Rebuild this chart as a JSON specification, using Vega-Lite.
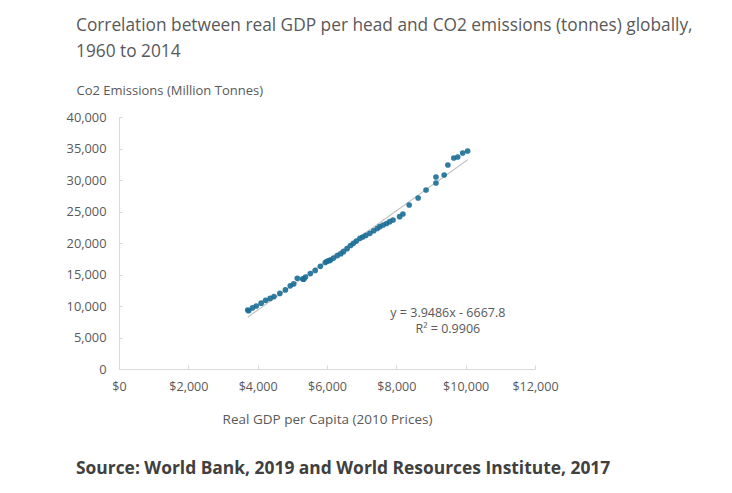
{
  "$schema": "https://vega.github.io/schema/vega-lite/v6.json",
  "background": "white",
  "autosize": {"type": "pad"},
  "padding": {"left": 66, "top": 16, "right": 5, "bottom": 5},
  "config": {"view": {"stroke": null}, "font": "Open Sans"},
  "title": {
    "text": "Source: World Bank, 2019 and World Resources Institute, 2017",
    "orient": "bottom", "anchor": "start", "frame": "group", "dx": -43,
    "font": "Open Sans", "fontSize": 17.4, "fontWeight": "bold", "color": "#404040", "offset": 34
  },
  "vconcat": [
    {
      "width": 416,
      "height": 252,
      "title": {
        "text": ["Correlation between real GDP per head and CO2 emissions (tonnes) globally,", "1960 to 2014"],
        "anchor": "start", "frame": "group", "dx": -43,
        "font": "Open Sans", "fontSize": 17.3, "lineHeight": 26, "fontWeight": "normal", "color": "#595959", "offset": 24
      },
      "data": {"values": [
        {"year": 1960, "gdp": 3714, "co2": 9365},
        {"year": 1961, "gdp": 3740, "co2": 9250},
        {"year": 1962, "gdp": 3850, "co2": 9700},
        {"year": 1963, "gdp": 3960, "co2": 10000},
        {"year": 1964, "gdp": 4100, "co2": 10450},
        {"year": 1965, "gdp": 4230, "co2": 10900},
        {"year": 1966, "gdp": 4360, "co2": 11200},
        {"year": 1967, "gdp": 4470, "co2": 11500},
        {"year": 1968, "gdp": 4640, "co2": 12000},
        {"year": 1969, "gdp": 4800, "co2": 12550},
        {"year": 1970, "gdp": 4940, "co2": 13200},
        {"year": 1971, "gdp": 5040, "co2": 13500},
        {"year": 1972, "gdp": 5143, "co2": 14400},
        {"year": 1973, "gdp": 5300, "co2": 14300},
        {"year": 1974, "gdp": 5330, "co2": 14250},
        {"year": 1975, "gdp": 5380, "co2": 14600},
        {"year": 1976, "gdp": 5520, "co2": 15150},
        {"year": 1977, "gdp": 5660, "co2": 15650},
        {"year": 1978, "gdp": 5810, "co2": 16300},
        {"year": 1979, "gdp": 5950, "co2": 16900},
        {"year": 1980, "gdp": 6000, "co2": 17100},
        {"year": 1981, "gdp": 6060, "co2": 17200},
        {"year": 1982, "gdp": 6100, "co2": 17300},
        {"year": 1983, "gdp": 6190, "co2": 17600},
        {"year": 1984, "gdp": 6300, "co2": 18000},
        {"year": 1985, "gdp": 6400, "co2": 18300},
        {"year": 1986, "gdp": 6476, "co2": 18620},
        {"year": 1987, "gdp": 6580, "co2": 19100},
        {"year": 1988, "gdp": 6680, "co2": 19600},
        {"year": 1989, "gdp": 6762, "co2": 19950},
        {"year": 1990, "gdp": 6850, "co2": 20300},
        {"year": 1991, "gdp": 6952, "co2": 20740},
        {"year": 1992, "gdp": 7030, "co2": 20950},
        {"year": 1993, "gdp": 7120, "co2": 21200},
        {"year": 1994, "gdp": 7238, "co2": 21530},
        {"year": 1995, "gdp": 7350, "co2": 21950},
        {"year": 1996, "gdp": 7450, "co2": 22300},
        {"year": 1997, "gdp": 7524, "co2": 22590},
        {"year": 1998, "gdp": 7620, "co2": 22850},
        {"year": 1999, "gdp": 7720, "co2": 23100},
        {"year": 2000, "gdp": 7810, "co2": 23390},
        {"year": 2001, "gdp": 7905, "co2": 23650},
        {"year": 2002, "gdp": 8095, "co2": 24180},
        {"year": 2003, "gdp": 8190, "co2": 24600},
        {"year": 2004, "gdp": 8371, "co2": 26030},
        {"year": 2005, "gdp": 8629, "co2": 27140},
        {"year": 2006, "gdp": 8857, "co2": 28410},
        {"year": 2007, "gdp": 9143, "co2": 29524},
        {"year": 2008, "gdp": 9380, "co2": 30794},
        {"year": 2009, "gdp": 9143, "co2": 30476},
        {"year": 2010, "gdp": 9486, "co2": 32381},
        {"year": 2011, "gdp": 9657, "co2": 33492},
        {"year": 2012, "gdp": 9771, "co2": 33651},
        {"year": 2013, "gdp": 9914, "co2": 34286},
        {"year": 2014, "gdp": 10057, "co2": 34603}
      ]},
      "encoding": {
        "x": {
          "field": "gdp", "type": "quantitative",
          "scale": {"domain": [0, 12000], "nice": false},
          "axis": {
            "title": "Real GDP per Capita (2010 Prices)",
            "values": [0, 2000, 4000, 6000, 8000, 10000, 12000],
            "format": "$,.0f", "grid": false,
            "domainColor": "#d9d9d9", "tickColor": "#d9d9d9", "tickSize": -4,
            "labelPadding": 15, "labelFont": "Open Sans", "labelFontSize": 12.5, "labelColor": "#595959",
            "labelFlush": false, "labelOverlap": false,
            "titleFont": "Open Sans", "titleFontSize": 13.5, "titleFontWeight": "normal", "titleColor": "#595959",
            "titlePadding": 20
          }
        },
        "y": {
          "field": "co2", "type": "quantitative",
          "scale": {"domain": [0, 40000], "nice": false},
          "axis": {
            "title": "Co2 Emissions (Million Tonnes)",
            "titleAngle": 0, "titleAlign": "left", "titleBaseline": "alphabetic",
            "titleX": -43, "titleY": -23,
            "values": [0, 5000, 10000, 15000, 20000, 25000, 30000, 35000, 40000],
            "format": ",.0f", "grid": false,
            "domainColor": "#d9d9d9", "tickColor": "#d9d9d9", "tickSize": -3,
            "labelPadding": 16, "labelFont": "Open Sans", "labelFontSize": 12.8, "labelColor": "#595959",
            "labelFlush": false, "labelOverlap": false,
            "titleFont": "Open Sans", "titleFontSize": 13, "titleFontWeight": "normal", "titleColor": "#595959"
          }
        }
      },
      "layer": [
        {
          "transform": [{"regression": "co2", "on": "gdp"}],
          "mark": {"type": "line", "color": "#c4c4c4", "strokeWidth": 1.2}
        },
        {
          "mark": {"type": "circle", "size": 32, "color": "#1a6e97", "opacity": 0.9}
        },
        {
          "data": {"values": [
            {"gdp": 9486, "co2": 8900, "label": "y = 3.9486x - 6667.8"},
            {"gdp": 9486, "co2": 6300, "label": "R² = 0.9906"}
          ]},
          "mark": {"type": "text", "font": "Open Sans", "fontSize": 12.5, "color": "#595959", "align": "center", "baseline": "middle"},
          "encoding": {"text": {"field": "label", "type": "nominal"}}
        }
      ]
    }
  ]
}
